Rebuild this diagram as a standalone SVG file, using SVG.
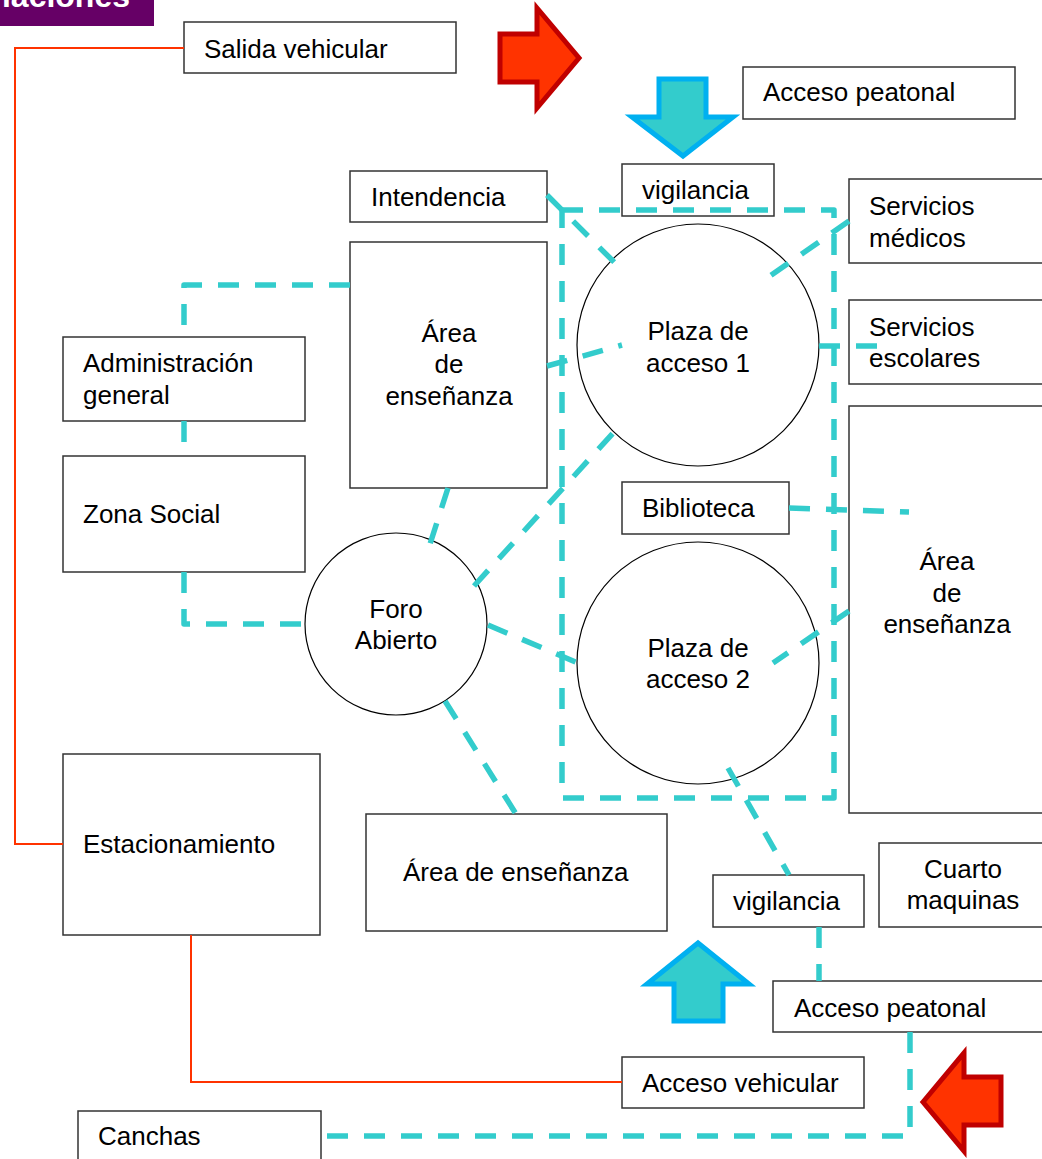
<svg xmlns="http://www.w3.org/2000/svg" width="1042" height="1159" viewBox="0 0 1042 1159">
<style>
.box{fill:#fff;stroke:#333;stroke-width:1.5}
.circ{fill:#fff;stroke:#000;stroke-width:1.2}
.t{font-family:"Liberation Sans",Arial,sans-serif;font-size:26px;fill:#000}
.c{text-anchor:middle}
.dash{fill:none;stroke:#33CCCC;stroke-width:5.5;stroke-dasharray:21 16;stroke-linejoin:round}
.veh{fill:none;stroke:#FF3300;stroke-width:2}
.red{fill:#FF3300;stroke:#C00000;stroke-width:5}
.blue{fill:#33CCCC;stroke:#00B0F0;stroke-width:5}
</style>
<rect width="1042" height="1159" fill="#fff"/>
<g id="title">
<rect x="0" y="0" width="154" height="26" fill="#660066"/>
<text x="130" y="7" font-family="Liberation Sans,Arial,sans-serif" font-size="32" font-weight="bold" fill="#fff" text-anchor="end">laciones</text>
</g>
<g id="arrows">
<polygon class="red" points="500,34 537,34 537,8 579,58 537,108 537,82 500,82"/>
<polygon class="red" points="923,1102 964,1053 964,1077 1001,1077 1001,1125 964,1125 964,1151"/>
<polygon class="blue" points="659,79 706,79 706,117 733,117 683,156 632,117 659,117"/>
<polygon class="blue" points="698,943 749,984 723,984 723,1021 674,1021 674,984 647,984"/>
</g>
<g id="nodes">
<g id="salida"><rect class="box" x="184" y="22" width="272" height="51"/><text class="t" x="204" y="58">Salida vehicular</text></g>
<g id="acceso-peatonal-top"><rect class="box" x="743" y="67" width="272" height="52"/><text class="t" x="763" y="101">Acceso peatonal</text></g>
<g id="intendencia"><rect class="box" x="350" y="171" width="197" height="51"/><text class="t" x="371" y="206">Intendencia</text></g>
<g id="vigilancia-top"><rect class="box" x="622" y="164" width="152" height="52"/><text class="t" x="642" y="199">vigilancia</text></g>
<g id="serv-medicos"><rect class="box" x="849" y="179" width="200" height="84"/><text class="t" x="869" y="215">Servicios</text><text class="t" x="869" y="247">médicos</text></g>
<g id="area-left"><rect class="box" x="350" y="242" width="197" height="246"/><text class="t c" x="449" y="342">Área</text><text class="t c" x="449" y="373">de</text><text class="t c" x="449" y="405">enseñanza</text></g>
<g id="admin"><rect class="box" x="63" y="337" width="242" height="84"/><text class="t" x="83" y="372">Administración</text><text class="t" x="83" y="404">general</text></g>
<g id="serv-escolares"><rect class="box" x="849" y="300" width="200" height="84"/><text class="t" x="869" y="336">Servicios</text><text class="t" x="869" y="367">escolares</text></g>
<g id="zona-social"><rect class="box" x="63" y="456" width="242" height="116"/><text class="t" x="83" y="523">Zona Social</text></g>
<g id="biblioteca"><rect class="box" x="622" y="482" width="167" height="52"/><text class="t" x="642" y="517">Biblioteca</text></g>
<g id="area-right"><rect class="box" x="849" y="406" width="200" height="407"/><text class="t c" x="947" y="570">Área</text><text class="t c" x="947" y="602">de</text><text class="t c" x="947" y="633">enseñanza</text></g>
<g id="estacionamiento"><rect class="box" x="63" y="754" width="257" height="181"/><text class="t" x="83" y="853">Estacionamiento</text></g>
<g id="area-bottom"><rect class="box" x="366" y="814" width="301" height="117"/><text class="t" x="403" y="881">Área de enseñanza</text></g>
<g id="vigilancia-bottom"><rect class="box" x="713" y="875" width="151" height="52"/><text class="t" x="733" y="910">vigilancia</text></g>
<g id="cuarto"><rect class="box" x="879" y="843" width="170" height="84"/><text class="t c" x="963" y="878">Cuarto</text><text class="t c" x="963" y="909">maquinas</text></g>
<g id="acceso-peatonal-bottom"><rect class="box" x="773" y="981" width="275" height="51"/><text class="t" x="794" y="1017">Acceso peatonal</text></g>
<g id="acceso-vehicular"><rect class="box" x="622" y="1057" width="242" height="51"/><text class="t" x="642" y="1092">Acceso vehicular</text></g>
<g id="canchas"><rect class="box" x="78" y="1111" width="243" height="60"/><text class="t" x="98" y="1145">Canchas</text></g>
<g id="plaza1"><circle class="circ" cx="698" cy="345" r="121"/><text class="t c" x="698" y="340">Plaza de</text><text class="t c" x="698" y="372">acceso 1</text></g>
<g id="plaza2"><circle class="circ" cx="698" cy="663" r="121"/><text class="t c" x="698" y="657">Plaza de</text><text class="t c" x="698" y="688">acceso 2</text></g>
<g id="foro"><circle class="circ" cx="396" cy="624" r="91"/><text class="t c" x="396" y="618">Foro</text><text class="t c" x="396" y="649">Abierto</text></g>
</g>
<g id="connectors">
<path class="dash" d="M562,210 H834 V798 H562 Z"/>
<path class="dash" d="M350,285 H184 V337"/>
<path class="dash" d="M184,421 V456"/>
<path class="dash" d="M184,572 V624 H305"/>
<path class="dash" d="M448,488 L430,544"/>
<path class="dash" d="M474,586 L614,432"/>
<path class="dash" d="M488,625 L578,663"/>
<path class="dash" d="M445,701 L516,814"/>
<path class="dash" d="M547,195 L615,263"/>
<path class="dash" d="M547,366 L622,345"/>
<path class="dash" d="M849,221 L770,276"/>
<path class="dash" d="M819,346 H877"/>
<path class="dash" d="M789,508 L909,512"/>
<path class="dash" d="M849,611 L773,663"/>
<path class="dash" d="M728,768 L789,875"/>
<path class="dash" d="M819,927 V981"/>
<path class="dash" d="M910,1032 V1136 H321"/>
<path class="veh" d="M184,48 H15 V844 H63"/>
<path class="veh" d="M191,935 V1082 H622"/>
</g>
</svg>
